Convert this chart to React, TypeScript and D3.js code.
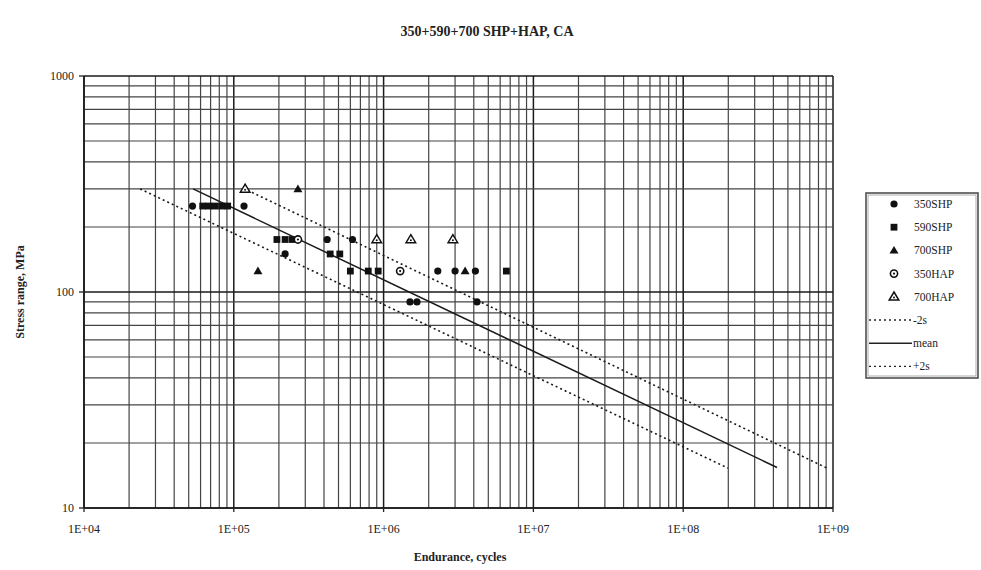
import React from "react";
import * as d3 from "d3";

// endurance (cycles), stress range (MPa)
const s350SHP: [number, number][] = [
  [5.3e4, 250], [1.17e5, 250], [4.2e5, 175], [6.2e5, 175], [2.2e5, 150],
  [2.3e6, 125], [3.0e6, 125], [4.1e6, 125], [1.5e6, 90], [1.67e6, 90], [4.2e6, 90],
];
const s590SHP: [number, number][] = [
  [6.2e4, 250], [6.8e4, 250], [7.5e4, 250], [8.3e4, 250], [9.1e4, 250],
  [1.94e5, 175], [2.2e5, 175], [2.45e5, 175], [4.4e5, 150], [5.1e5, 150],
  [6.0e5, 125], [7.9e5, 125], [9.2e5, 125], [6.6e6, 125],
];
const s700SHP: [number, number][] = [[2.68e5, 300], [1.45e5, 125], [3.5e6, 125]];
const s350HAP: [number, number][] = [[1.29e6, 125], [2.68e5, 175]];
const s700HAP: [number, number][] = [[1.19e5, 300], [9.0e5, 175], [1.52e6, 175], [2.9e6, 175]];

const minus2s: [number, number][] = [[2.37e4, 300], [1.99e8, 15.3]];
const mean: [number, number][] = [[5.35e4, 300], [4.23e8, 15.4]];
const plus2s: [number, number][] = [[1.15e5, 303], [9.12e8, 15.3]];

const xTicks = [1e4, 1e5, 1e6, 1e7, 1e8, 1e9];
const xTickLabels = ["1E+04", "1E+05", "1E+06", "1E+07", "1E+08", "1E+09"];
const yTicks = [10, 100, 1000];
const yTickLabels = ["10", "100", "1000"];

const legendNames = ["350SHP", "590SHP", "700SHP", "350HAP", "700HAP", "-2s", "mean", "+2s"];

const W = 981, H = 570;
const left = 84, right = 833, top = 76, bottom = 508;

const x = d3.scaleLog().domain([1e4, 1e9]).range([left, right]);
const y = d3.scaleLog().domain([10, 1000]).range([bottom, top]);

// minor grid values
const xGrid: number[] = [];
for (let e = 4; e < 9; e++) for (let k = 1; k <= 9; k++) xGrid.push(k * Math.pow(10, e));
xGrid.push(1e9);
const yGrid: number[] = [];
for (let e = 1; e < 3; e++) for (let k = 1; k <= 9; k++) yGrid.push(k * Math.pow(10, e));
yGrid.push(1000);

const line = d3.line<[number, number]>().x((d) => x(d[0])).y((d) => y(d[1]));

const sym = (kind: string, cx: number, cy: number, key: any) => {
  if (kind === "circle")
    return <circle key={key} cx={cx} cy={cy} r={3.6} fill="#111" />;
  if (kind === "square")
    return <rect key={key} x={cx - 3.4} y={cy - 3.4} width={6.8} height={6.8} fill="#111" />;
  if (kind === "tri")
    return <path key={key} d={`M${cx},${cy - 4.5}L${cx + 4.5},${cy + 3.2}L${cx - 4.5},${cy + 3.2}Z`} fill="#111" />;
  if (kind === "ocircle")
    return (
      <g key={key}>
        <circle cx={cx} cy={cy} r={3.6} fill="#fff" stroke="#111" strokeWidth={1.6} />
        <circle cx={cx} cy={cy} r={1.1} fill="#111" />
      </g>
    );
  return (
    <g key={key}>
      <path d={`M${cx},${cy - 4.8}L${cx + 4.8},${cy + 3.2}L${cx - 4.8},${cy + 3.2}Z`} fill="#fff" stroke="#111" strokeWidth={1.5} />
      <circle cx={cx} cy={cy + 0.8} r={1} fill="#111" />
    </g>
  );
};

const series: { data: [number, number][]; kind: string }[] = [
  { data: s350SHP, kind: "circle" },
  { data: s590SHP, kind: "square" },
  { data: s700SHP, kind: "tri" },
  { data: s350HAP, kind: "ocircle" },
  { data: s700HAP, kind: "otri" },
];

const font = "'Liberation Serif', 'DejaVu Serif', serif";

export default function App() {
  const lx = 866, ly = 193;
  return (
    <svg width={W} height={H} style={{ position: "absolute", left: 0, top: 0 }} fontFamily={font}>
      <rect width={W} height={H} fill="#fff" />
      <text x={487} y={36} textAnchor="middle" fontSize={14} fontWeight="bold" fill="#222">
        350+590+700 SHP+HAP, CA
      </text>

      {/* grid */}
      {xGrid.map((v, i) => (
        <line key={"gx" + i} x1={x(v)} x2={x(v)} y1={top} y2={bottom}
          stroke={xTicks.includes(v) ? "#1a1a1a" : "#444"} strokeWidth={xTicks.includes(v) ? 1.5 : 1.2} />
      ))}
      {yGrid.map((v, i) => (
        <line key={"gy" + i} x1={left} x2={right} y1={y(v)} y2={y(v)}
          stroke={yTicks.includes(v) ? "#1a1a1a" : "#444"} strokeWidth={yTicks.includes(v) ? 1.5 : 1.2} />
      ))}

      {/* axes */}
      <line x1={left} x2={left} y1={top} y2={bottom} stroke="#1a1a1a" strokeWidth={1.6} />
      <line x1={left} x2={right} y1={bottom} y2={bottom} stroke="#1a1a1a" strokeWidth={1.6} />
      {yTicks.map((v, i) => (
        <g key={"yt" + i}>
          <line x1={left - 5} x2={left} y1={y(v)} y2={y(v)} stroke="#222" strokeWidth={1.3} />
          <text x={left - 10} y={y(v) + 4} textAnchor="end" fontSize={12} fill="#222">
            {yTickLabels[i]}
          </text>
        </g>
      ))}
      {xTicks.map((v, i) => (
        <g key={"xt" + i}>
          <line x1={x(v)} x2={x(v)} y1={bottom} y2={bottom + 4} stroke="#222" strokeWidth={1.3} />
          <text x={x(v)} y={bottom + 25} textAnchor="middle" fontSize={12} fill="#222">
            {xTickLabels[i]}
          </text>
        </g>
      ))}
      <text x={460} y={561} textAnchor="middle" fontSize={12} fontWeight="bold" fill="#222">
        Endurance, cycles
      </text>
      <text transform={`translate(24,${(top + bottom) / 2}) rotate(-90)`} textAnchor="middle"
        fontSize={12} fontWeight="bold" fill="#222">
        Stress range, MPa
      </text>

      {/* design lines */}
      <path d={line(minus2s) || ""} fill="none" stroke="#1a1a1a" strokeWidth={1.6} strokeDasharray="2,3" />
      <path d={line(mean) || ""} fill="none" stroke="#1a1a1a" strokeWidth={1.5} />
      <path d={line(plus2s) || ""} fill="none" stroke="#1a1a1a" strokeWidth={1.6} strokeDasharray="2,3" />

      {/* points */}
      {series.map((s, si) => (
        <g key={"s" + si}>{s.data.map((d, i) => sym(s.kind, x(d[0]), y(d[1]), i))}</g>
      ))}

      {/* legend */}
      <rect x={lx} y={ly} width={112} height={185} fill="#fff" stroke="#444" strokeWidth={1.5} />
      <rect x={lx + 2} y={ly + 2} width={108} height={181} fill="none" stroke="#999" strokeWidth={0.8} />
      {legendNames.map((name, i) => {
        const yy = ly + 11 + i * 23.2;
        let mark: React.ReactNode;
        if (i < 5) mark = sym(series[i].kind, 894, yy, "m");
        else
          mark = (
            <line x1={lx + 3} x2={lx + 46} y1={yy} y2={yy} stroke="#222" strokeWidth={1.4}
              strokeDasharray={i === 6 ? undefined : "2,3"} />
          );
        return (
          <g key={"lg" + i}>
            {mark}
            <text x={i < 5 ? 914 : lx + 47} y={yy + 4} fontSize={11.5} fill="#222">
              {name}
            </text>
          </g>
        );
      })}
    </svg>
  );
}
